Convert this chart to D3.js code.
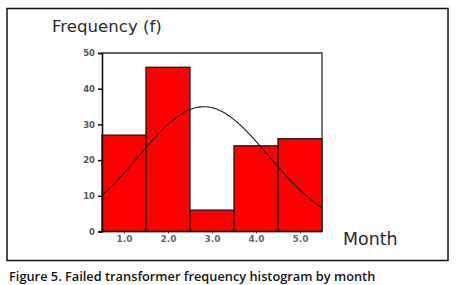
<!DOCTYPE html>
<html>
<head>
<meta charset="utf-8">
<script src="https://cdn.jsdelivr.net/npm/d3@7"></script>
<style>
  body { margin: 0; background: #fff; }
  svg { display: block; }
</style>
</head>
<body>
<svg id="chart" width="457" height="285"></svg>
<script>
// histogram data
const months = [1, 2, 3, 4, 5]
const frequency = [27, 46, 6, 24, 26]
const yTicks = [0, 10, 20, 30, 40, 50]
const xTickLabels = ['1.0', '2.0', '3.0', '4.0', '5.0']

const svg = d3.select('#chart')

// outer figure frame
svg.append('rect')
  .attr('x', 7)
  .attr('y', 8.5)
  .attr('width', 441)
  .attr('height', 252)
  .attr('fill', 'none')
  .attr('stroke', '#111')
  .attr('stroke-width', 1.5)

const plotLeft = 102, plotRight = 322, plotTop = 53, plotBottom = 231.5

const x = d3.scaleLinear()
  .domain([0.5, 5.5])
  .range([plotLeft, plotRight])

const y = d3.scaleLinear()
  .domain([0, 50])
  .range([plotBottom, plotTop])

// plot frame (top & right)
svg.append('path')
  .attr('d', `M${plotLeft},${plotTop}H${plotRight}V${plotBottom}`)
  .attr('fill', 'none')
  .attr('stroke', '#333')
  .attr('stroke-width', 1.3)

// bars
svg.append('g').selectAll('rect')
  .data(months)
  .enter()
  .append('rect')
  .attr('x', d => x(d - 0.5))
  .attr('y', (d, i) => y(frequency[i]))
  .attr('width', d => x(d + 0.5) - x(d - 0.5))
  .attr('height', (d, i) => y(0) - y(frequency[i]))
  .attr('fill', '#ff0000')
  .attr('stroke', '#1a1a1a')
  .attr('stroke-width', 1.3)

// normal curve fitted to the histogram (mean & sd from the data)
const n = d3.sum(frequency)
const mean = d3.sum(months, (m, i) => m * frequency[i]) / n
const sd = Math.sqrt(d3.sum(months, (m, i) => frequency[i] * (m - mean) ** 2) / (n - 1))
const normal = v => n / (sd * Math.sqrt(2 * Math.PI)) * Math.exp(-0.5 * ((v - mean) / sd) ** 2)

const curveX = d3.range(0.5, 5.501, 0.05)
svg.append('path')
  .datum(curveX)
  .attr('d', d3.line().x(d => x(d)).y(d => y(normal(d))))
  .attr('fill', 'none')
  .attr('stroke', '#2a1414')
  .attr('stroke-width', 1.1)

// y axis
const yAxis = d3.axisLeft(y)
  .tickValues(yTicks)
  .tickSize(4)
  .tickPadding(3)
  .tickFormat(d3.format('d'))

const yG = svg.append('g')
  .attr('transform', `translate(${plotLeft},0)`)
  .call(yAxis)
yG.select('.domain').attr('stroke', '#111').attr('stroke-width', 1.6)
yG.selectAll('.tick line').attr('stroke', '#111').attr('stroke-width', 1.5)
yG.selectAll('text')
  .attr('font-family', 'DejaVu Sans')
  .attr('font-size', 8.5)
  .attr('font-weight', 'bold')
  .attr('fill', '#555')

// x axis
const xAxis = d3.axisBottom(x)
  .tickValues(months)
  .tickSize(2)
  .tickPadding(2)
  .tickFormat((d, i) => xTickLabels[i])

const xG = svg.append('g')
  .attr('transform', `translate(0,${plotBottom})`)
  .call(xAxis)
xG.select('.domain').attr('d', `M${plotLeft - 3},0H${plotRight}`).attr('stroke', '#111').attr('stroke-width', 1.6)
xG.selectAll('.tick line').attr('stroke', '#444')
xG.selectAll('text')
  .attr('font-family', 'DejaVu Sans')
  .attr('font-size', 9)
  .attr('font-weight', 'bold')
  .attr('fill', '#666')

// axis titles
svg.append('text')
  .attr('x', 52)
  .attr('y', 32)
  .attr('font-family', 'DejaVu Sans')
  .attr('font-size', 16.6)
  .attr('fill', '#2a2a2a')
  .text('Frequency (f)')

svg.append('text')
  .attr('x', 343)
  .attr('y', 245)
  .attr('font-family', 'DejaVu Sans')
  .attr('font-size', 17.4)
  .attr('fill', '#2a2a2a')
  .text('Month')

// caption
svg.append('text')
  .attr('x', 9)
  .attr('y', 281)
  .attr('font-family', 'Open Sans')
  .attr('font-size', 12.8)
  .attr('font-weight', 600)
  .attr('fill', '#151515')
  .text('Figure 5. Failed transformer frequency histogram by month')
</script>
</body>
</html>
